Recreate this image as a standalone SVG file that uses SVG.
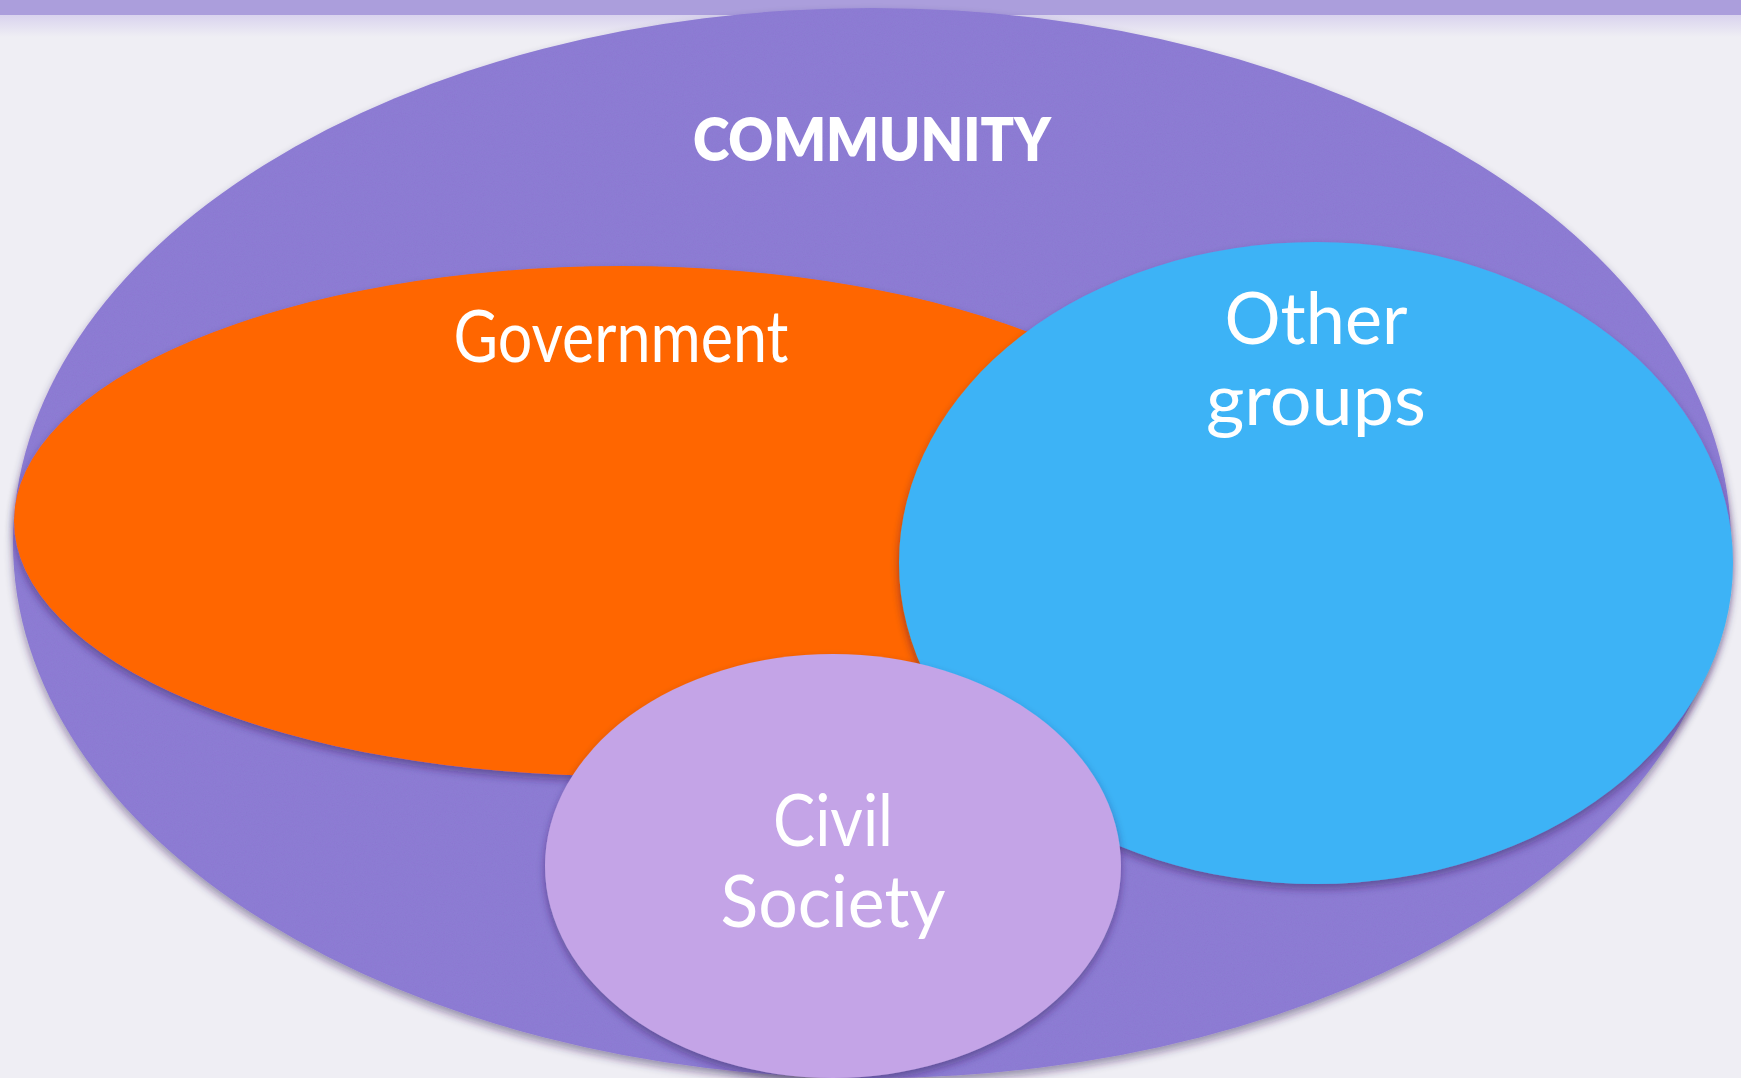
<svg xmlns="http://www.w3.org/2000/svg" width="1741" height="1078" viewBox="0 0 1741 1078">
  <defs>
    <filter id="shadow" x="-10%" y="-10%" width="120%" height="125%">
      <feDropShadow dx="0" dy="5" stdDeviation="4" flood-color="#2a1f55" flood-opacity="0.45"/>
    </filter>
    <filter id="grain" x="0" y="0" width="100%" height="100%">
      <feTurbulence type="fractalNoise" baseFrequency="0.9" numOctaves="2" seed="3" result="n"/>
      <feColorMatrix in="n" type="matrix" values="0 0 0 0 0.1  0 0 0 0 0.05  0 0 0 0 0.3  0 0 0 0.1 0" result="d"/>
      <feComposite in="d" in2="SourceGraphic" operator="in"/>
    </filter>
    <linearGradient id="band" x1="0" y1="0" x2="0" y2="1">
      <stop offset="0" stop-color="#d9d3ee"/>
      <stop offset="1" stop-color="#efeef4"/>
    </linearGradient>
  </defs>
  <style>
    .lbl { font-family: Lato, "Open Sans", "Liberation Sans", sans-serif; fill: #ffffff; text-anchor: middle; }
    .title { font-weight: 800; font-size: 60px; }
    .big { font-weight: 400; font-size: 72px; }
  </style>
  <rect x="0" y="0" width="1741" height="1078" fill="#efeef4"/>
  <rect x="0" y="15" width="1741" height="22" fill="url(#band)"/>
  <rect x="0" y="0" width="1741" height="15" fill="#ab9edc"/>

  <g id="community">
    <ellipse cx="872" cy="543" rx="859" ry="535" fill="#8f7ed6" filter="url(#shadow)"/>
    <ellipse cx="872" cy="543" rx="859" ry="535" fill="#8f7ed6" filter="url(#grain)"/>
    <text class="lbl title" x="872" y="161" textLength="358" lengthAdjust="spacingAndGlyphs">COMMUNITY</text>
  </g>

  <g id="government">
    <ellipse cx="621" cy="521" rx="607" ry="255" fill="#ff6600" filter="url(#shadow)"/>
    <text class="lbl big" x="621" y="362" font-size="66" textLength="335" lengthAdjust="spacingAndGlyphs">Government</text>
  </g>

  <g id="other-groups">
    <ellipse cx="1316" cy="563" rx="417" ry="321" fill="#3db3f6" filter="url(#shadow)"/>
    <text class="lbl big" x="1316" y="344" textLength="183" lengthAdjust="spacingAndGlyphs">Other</text>
    <text class="lbl big" x="1316" y="425" textLength="220" lengthAdjust="spacingAndGlyphs">groups</text>
  </g>

  <g id="civil-society">
    <ellipse cx="833" cy="866" rx="288" ry="212" fill="#c4a4e7" filter="url(#shadow)"/>
    <text class="lbl big" x="833" y="846" textLength="120" lengthAdjust="spacingAndGlyphs">Civil</text>
    <text class="lbl big" x="833" y="927" textLength="225" lengthAdjust="spacingAndGlyphs">Society</text>
  </g>

  <g id="connectors"/>
</svg>
